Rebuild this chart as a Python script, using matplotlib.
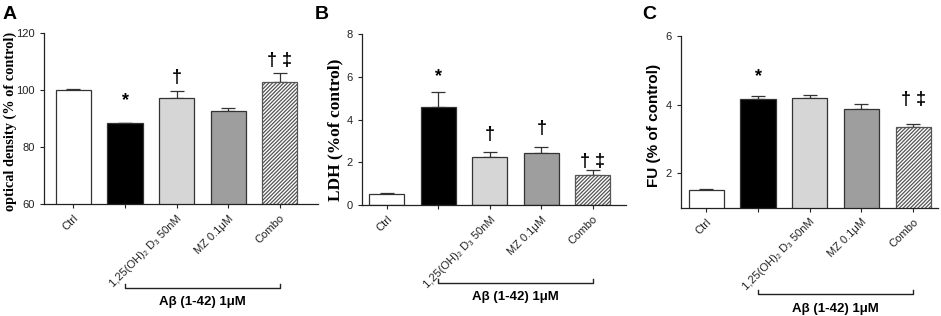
import numpy as np
import matplotlib
matplotlib.use('Agg')
import matplotlib.pyplot as plt
import matplotlib.transforms as mtransforms

plt.rcParams['font.family'] = ['Liberation Sans', 'DejaVu Sans']
plt.rcParams['hatch.linewidth'] = 0.9

labels = ['Ctrl', '', '1,25(OH)₂ D₃ 50nM', 'MZ 0.1μM', 'Combo']

# panel A: optical density
od_mean = [100.0, 88.4, 97.2, 92.8, 102.9]
od_err = [0.3, 0.2, 2.6, 1.0, 3.2]
od_marks = ['', '*', '†', '', '† ‡']
od_mark_y = [0, 96.4, 104.6, 0, 110.4]

# panel B: LDH
ldh_mean = [0.53, 4.61, 2.27, 2.42, 1.39]
ldh_err = [0.03, 0.67, 0.2, 0.28, 0.23]
ldh_marks = ['', '*', '†', '†', '† ‡']
ldh_mark_y = [0, 6.0, 3.3, 3.6, 2.05]

# panel C: FU
fu_mean = [1.52, 4.17, 4.18, 3.88, 3.35]
fu_err = [0.01, 0.09, 0.11, 0.15, 0.10]
fu_marks = ['', '*', '', '', '† ‡']
fu_mark_y = [0, 4.82, 0, 0, 4.14]

colors = ['white', 'black', '#d6d6d6', '#9e9e9e', 'white']
serif = ['Liberation Serif', 'DejaVu Serif']
sans = ['Liberation Sans', 'DejaVu Sans']


def draw_panel(fig, rect, means, errs, marks, mark_y, ylim, yticks, xlim,
               letter, letter_x, bracket_y, text_y):
    ax = fig.add_axes(rect)
    x = np.arange(len(means))
    bars = ax.bar(x, means, width=0.68, color=colors, edgecolor='#333333',
                  linewidth=0.9, zorder=2)
    bars[-1].set_hatch('/////////')
    bars[-1].set_edgecolor('#555555')
    ax.errorbar(x, means, yerr=[np.zeros(len(errs)), errs], fmt='none',
                ecolor='#333333', elinewidth=0.9, capsize=5, capthick=0.9, zorder=1)
    for xi, m, my in zip(x, marks, mark_y):
        if m:
            ax.text(xi, my, m, ha='center', va='center', fontsize=13,
                    fontweight='bold')
    ax.set_ylim(*ylim)
    ax.set_yticks(yticks)
    ax.set_xlim(*xlim)
    ax.set_xticks(x)
    ax.set_xticklabels(labels, rotation=45, ha='right', rotation_mode='anchor',
                       fontsize=8)
    ax.tick_params(axis='y', labelsize=8, length=3, width=0.8, colors='#222222')
    ax.tick_params(axis='x', length=3, width=0.8, colors='#222222')
    for s in ['top', 'right']:
        ax.spines[s].set_visible(False)
    for s in ['left', 'bottom']:
        ax.spines[s].set_linewidth(0.9)
        ax.spines[s].set_color('#222222')

    # bracket under the treated groups
    trans = mtransforms.blended_transform_factory(ax.transData, fig.transFigure)
    ax.plot([1, 1, 4, 4], [bracket_y + 0.012, bracket_y, bracket_y, bracket_y + 0.012],
            color='#222222', lw=1.0, transform=trans, clip_on=False)
    ax.text(2.5, text_y, 'Aβ (1-42) 1μM', transform=trans, ha='center',
            va='center', fontsize=9.5, fontweight='bold')
    fig.text(letter_x, 0.955, letter, fontsize=14, fontweight='bold',
             va='center', ha='left')
    return ax


fig = plt.figure(figsize=(9.41, 3.16), dpi=100)

draw_panel(fig, [0.0468, 0.354, 0.291, 0.541], od_mean, od_err, od_marks, od_mark_y,
           (60, 120), [60, 80, 100, 120], (-0.57, 4.74),
           'A', 0.003, 1 - 288 / 316, 1 - 302 / 316)
fig.text(10 / 941, 1 - 121 / 316, 'optical density (% of control)', rotation=90,
         ha='center', va='center', family=serif, fontsize=10.3, fontweight='bold')

draw_panel(fig, [0.3844, 0.351, 0.281, 0.541], ldh_mean, ldh_err, ldh_marks, ldh_mark_y,
           (0, 8), [0, 2, 4, 6, 8], (-0.49, 4.65),
           'B', 0.334, 1 - 283 / 316, 1 - 297 / 316)
fig.text(335 / 941, 1 - 130 / 316, 'LDH (%of control)', rotation=90,
         ha='center', va='center', family=serif, fontsize=12.5, fontweight='bold')

draw_panel(fig, [0.7237, 0.343, 0.273, 0.543], fu_mean, fu_err, fu_marks, fu_mark_y,
           (1, 6), [2, 4, 6], (-0.49, 4.48),
           'C', 0.683, 1 - 294 / 316, 1 - 309 / 316)
fig.text(654 / 941, 1 - 125 / 316, 'FU (% of control)', rotation=90,
         ha='center', va='center', family=sans, fontsize=11, fontweight='bold')

fig.savefig('out.png', dpi=100)
